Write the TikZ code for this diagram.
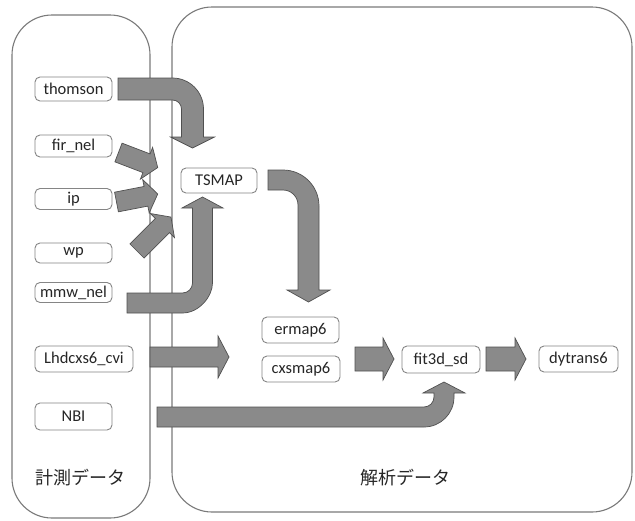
\documentclass[tikz,border=0pt]{standalone}
\usepackage{fontspec}
\setmainfont{Carlito}
\newfontfamily\jpfont{Noto Sans CJK JP}
\definecolor{contgray}{HTML}{7A7A7A}
\definecolor{boxgray}{HTML}{858585}
\definecolor{txtgray}{HTML}{262626}
\definecolor{arrfill}{HTML}{8A8A8A}
\definecolor{arrline}{HTML}{505050}
\begin{document}
\begin{tikzpicture}[x=1pt,y=-1pt,
  cont/.style={draw=contgray, line width=1.1pt, rounded corners=40pt},
  box/.style={draw=boxgray, line width=0.9pt, rounded corners=5pt, fill=white, inner sep=0pt, font=\fontsize{16.5}{18}\selectfont, text=txtgray},
  barrow/.style={fill=arrfill, draw=arrline, line width=0.7pt, line join=miter},
  lbl/.style={font=\jpfont\fontsize{18}{21}\selectfont, text=txtgray}
]
\useasboundingbox[fill=white] (0,0) rectangle (635,520);
% containers
\draw[cont] (12,15) rectangle (150,518);
\draw[cont] (172,7) rectangle (632,512);

% boxes
\node[box, minimum width=77pt, minimum height=24pt] (thomson) at (73.5,89) {thomson};
\node[box, minimum width=77pt, minimum height=22pt] (firnel) at (73.5,146) {fir\_nel};
\node[box, minimum width=77pt, minimum height=21pt] (ip) at (73.5,199) {ip};
\node[box, minimum width=77pt, minimum height=20pt] (wp) at (73.5,253) {wp};
\node[box, minimum width=77pt, minimum height=20pt] (mmw) at (73.5,292.5) {mmw\_nel};
\node[box, minimum width=98pt, minimum height=26pt] (lhd) at (84,359) {Lhdcxs6\_cvi};
\node[box, minimum width=77pt, minimum height=27pt] (nbi) at (73.5,416.5) {NBI};
\node[box, minimum width=76pt, minimum height=25pt] (tsmap) at (219,180.5) {TSMAP};
\node[box, minimum width=77pt, minimum height=26pt] (ermap) at (300.5,330) {ermap6};
\node[box, minimum width=78pt, minimum height=26pt] (cxsmap) at (301,369) {cxsmap6};
\node[box, minimum width=78pt, minimum height=27pt] (fit) at (441,359.5) {fit3d\_sd};
\node[box, minimum width=79pt, minimum height=26pt] (dytrans) at (578.5,359) {dytrans6};

\node[lbl] (lblL) at (80,478) {計測データ};
\node[lbl] (lblR) at (405,478) {解析データ};

% curved block arrows
% thomson -> TSMAP
\filldraw[barrow] (118,78) -- (172.5,78) .. controls (189.6,78) and (203.5,91.9) .. (203.5,109)
  -- (203.5,137) -- (214.5,137) -- (192.5,148) -- (170.5,137) -- (181.5,137) -- (181.5,109)
  .. controls (181.5,104) and (177.5,100) .. (172.5,100) -- (118,100) -- cycle;
% mmw_nel -> TSMAP
\filldraw[barrow] (127,313) -- (182.5,313) .. controls (199.1,313) and (212.5,296.4) .. (212.5,283)
  -- (212.5,208) -- (223,208) -- (202.5,197) -- (182,208) -- (192.5,208) -- (192.5,283)
  .. controls (192.5,288.5) and (188,293) .. (182.5,293) -- (127,293) -- cycle;
% TSMAP -> ermap6
\filldraw[barrow] (268,170) -- (283,170) .. controls (302.9,170) and (319,186.1) .. (319,206)
  -- (319,290) -- (330,290) -- (308.5,302) -- (287,290) -- (298,290) -- (298,205)
  .. controls (298,196.7) and (291.3,190) .. (283,190) -- (268,190) -- cycle;
% NBI -> fit3d_sd
\filldraw[barrow] (157,407) -- (424,407) .. controls (429.5,407) and (434,402.5) .. (434,397)
  -- (434,393) -- (423,393) -- (444,382) -- (465,393) -- (454,393) -- (454,397)
  .. controls (454,413.6) and (440.6,427) .. (424,427) -- (157,427) -- cycle;

% small slanted arrows
\begin{scope}[shift={(118.5,152.5)}, rotate=-21]
\filldraw[barrow] (0,-10) -- (30,-10) -- (30,-17) -- (42,0) -- (30,17) -- (30,10) -- (0,10) -- cycle;
\end{scope}
\begin{scope}[shift={(116.5,202)}, rotate=11]
\filldraw[barrow] (0,-10) -- (30,-10) -- (30,-17) -- (42,0) -- (30,17) -- (30,10) -- (0,10) -- cycle;
\end{scope}
\begin{scope}[shift={(137,251)}, rotate=45]
\filldraw[barrow] (0,-10) -- (36,-10) -- (36,-17) -- (48,0) -- (36,17) -- (36,10) -- (0,10) -- cycle;
\end{scope}

% straight arrows
\filldraw[barrow] (150,347) -- (218,347) -- (218,336) -- (229,357) -- (218,378) -- (218,367) -- (150,367) -- cycle;
\filldraw[barrow] (355,347) -- (383,347) -- (383,338) -- (394,359) -- (383,380) -- (383,371) -- (355,371) -- cycle;
\filldraw[barrow] (486,347) -- (515,347) -- (515,338) -- (526,359) -- (515,380) -- (515,371) -- (486,371) -- cycle;
\end{tikzpicture}
\end{document}
